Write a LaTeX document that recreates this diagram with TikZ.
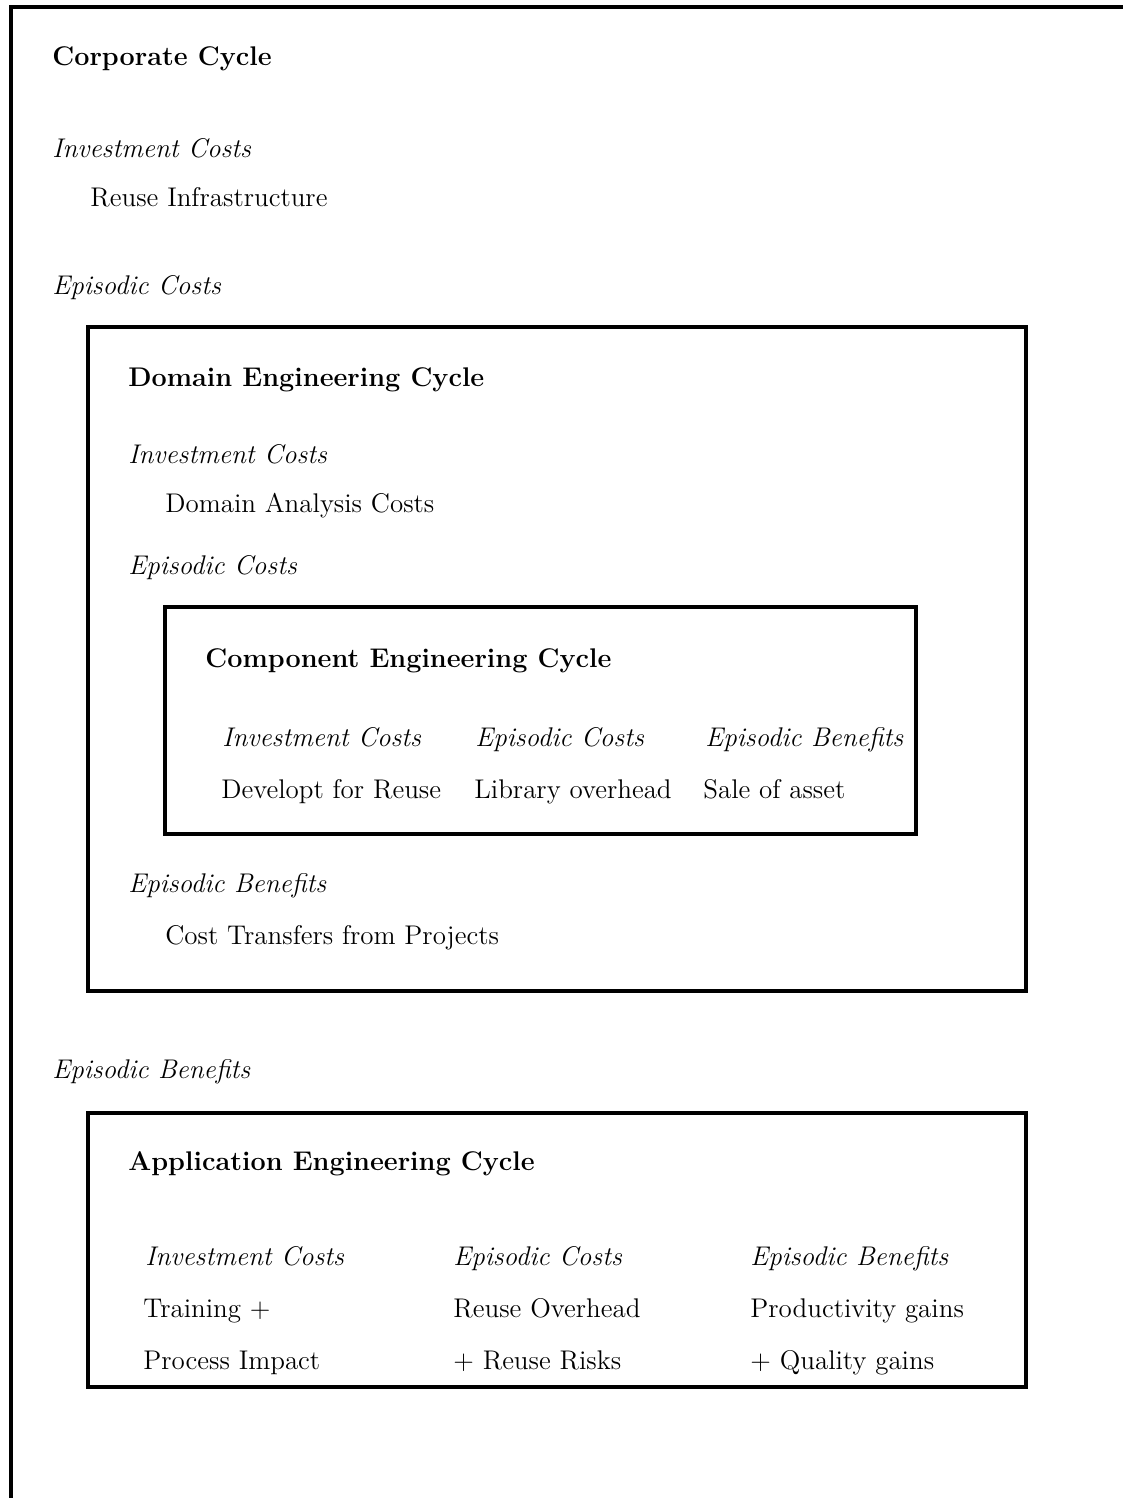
\documentclass[tikz,border=0pt]{standalone}
\begin{document}
\begin{tikzpicture}[x=0.5pt,y=-0.5pt,
  txt/.style={anchor=base west,inner sep=0pt,yshift=-1pt,font=\fontsize{13.5}{16}\selectfont},
  hd/.style={txt,font=\fontsize{13.5}{16}\selectfont\bfseries},
  it/.style={txt,font=\fontsize{13.5}{16}\selectfont\itshape},
  frame/.style={draw,line width=2pt}]
\useasboundingbox (0,0) rectangle (1123,1498);
\draw[line width=2pt] (11,1500) -- (11,7) -- (1125,7);
% corporate
\node[hd] (corp) at (52,64) {Corporate Cycle};
\node[it] (ci) at (52,156) {Investment Costs};
\node[txt] (cri) at (90,204) {Reuse Infrastructure};
\node[it] (ce) at (52,292) {Episodic Costs};
% domain box
\draw[frame] (88,327) rectangle (1026,991);
\node[hd] (dom) at (128,384) {Domain Engineering Cycle};
\node[it] (di) at (128,461) {Investment Costs};
\node[txt] (dac) at (165,510) {Domain Analysis Costs};
\node[it] (de) at (128,572) {Episodic Costs};
% component box
\draw[frame] (165,607) rectangle (916,834);
\node[hd] (comp) at (205,665) {Component Engineering Cycle};
\node[it] (ki) at (222,744) {Investment Costs};
\node[it] (ke) at (475,744) {Episodic Costs};
\node[it] (kb) at (705,744) {Episodic Benefits};
\node[txt] (kv1) at (221,796) {Developt for Reuse};
\node[txt] (kv2) at (474,796) {Library overhead};
\node[txt] (kv3) at (703,796) {Sale of asset};
\node[it] (db) at (128,890) {Episodic Benefits};
\node[txt] (dct) at (165,942) {Cost Transfers from Projects};
% corporate benefits
\node[it] (cb) at (52,1076) {Episodic Benefits};
% application box
\draw[frame] (88,1113) rectangle (1026,1387);
\node[hd] (app) at (128,1168) {Application Engineering Cycle};
\node[it] (ai) at (145,1263) {Investment Costs};
\node[it] (ae) at (453,1263) {Episodic Costs};
\node[it] (ab) at (750,1263) {Episodic Benefits};
\node[txt] (a11) at (143,1315) {Training +};
\node[txt] (a12) at (143,1367) {Process Impact};
\node[txt] (a21) at (453,1315) {Reuse Overhead};
\node[txt] (a22) at (453,1367) {+ Reuse Risks};
\node[txt] (a31) at (750,1315) {Productivity gains};
\node[txt] (a32) at (750,1367) {+ Quality gains};
\end{tikzpicture}
\end{document}
